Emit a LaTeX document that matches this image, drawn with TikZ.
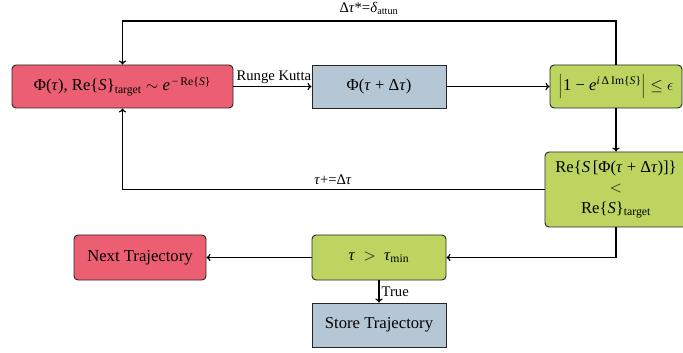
\documentclass[tikz,border=0pt]{standalone}
\usepackage{fontspec}
\setmainfont{Liberation Serif}
\usetikzlibrary{calc,arrows.meta}
\definecolor{cred}{RGB}{236,94,114}
\definecolor{cblue}{RGB}{181,199,213}
\definecolor{cgreen}{RGB}{189,213,96}
\newcommand{\gsp}{\kern0.25em}
\tikzset{
  box/.style={draw=black!85, line width=0.7pt, align=center, inner sep=1pt, font=\fontsize{12.5}{14.5}\selectfont},
  redbox/.style={box, fill=cred, rounded corners=3pt},
  bluebox/.style={box, fill=cblue},
  greenbox/.style={box, fill=cgreen, rounded corners=3pt},
  conn/.style={line width=0.9pt, -{To[length=3pt,width=5.5pt]}},
  lbl/.style={font=\fontsize{11}{13}\selectfont, inner sep=1.5pt},
}
\begin{document}
\begin{tikzpicture}[x=0.75pt,y=-0.75pt]
\useasboundingbox (0,0) rectangle (683,353);
\node[redbox, minimum width=221*0.75pt, minimum height=43*0.75pt] (A) at (122.5,86.5)
  {Φ(\textit{τ}), Re\{\textit{S}\}\textsubscript{target} $\sim$ \textit{e}\textsuperscript{\,−\,Re\{\textit{S}\}}};
\node[bluebox, minimum width=134*0.75pt, minimum height=43*0.75pt] (B) at (379,86.5)
  {Φ(\textit{τ}\gsp+\gsp Δ\textit{τ})};
\node[greenbox, minimum width=132*0.75pt, minimum height=43*0.75pt] (C) at (616,86.5)
  {$\Bigl|$1\gsp−\gsp\textit{e}\textsuperscript{\textit{i}\,Δ\,Im\{\textit{S}\}}$\Bigr|$\gsp$\leq$\gsp$\epsilon$};
\node[greenbox, minimum width=142*0.75pt, minimum height=75*0.75pt] (D) at (616,189.5)
  {Re\{\textit{S}\,[Φ(\textit{τ}\gsp+\gsp Δ\textit{τ})]\}\\[1pt] $<$\\[1pt] Re\{\textit{S}\}\textsubscript{target}};
\node[greenbox, minimum width=134*0.75pt, minimum height=45*0.75pt] (E) at (379,257.5)
  {\textit{τ}\gsp\gsp$>$\gsp\gsp\textit{τ}\textsubscript{min}};
\node[redbox, minimum width=132*0.75pt, minimum height=45*0.75pt] (F) at (140,257.5)
  {Next Trajectory};
\node[bluebox, minimum width=134*0.75pt, minimum height=44*0.75pt] (G) at (379,325)
  {Store Trajectory};
\coordinate (top) at (369,21);
\coordinate (mid) at (333,189.5);
\draw[conn] (A) -- node[lbl, above, xshift=1pt] {Runge Kutta} (B);
\draw[conn] (B) -- (C);
\draw[conn] (C.north) |- (top) node[lbl, above, yshift=3pt] {Δ\textit{τ}*=\textit{δ}\textsubscript{attun}} -| (A.north);
\draw[conn] (C) -- (D);
\draw[conn] (D.west) -- (mid) node[lbl, above, yshift=1.5pt] {\textit{τ}+=Δ\textit{τ}} -| (A.south);
\draw[conn] (D.south) |- (E.east);
\draw[conn] (E) -- (F);
\draw[conn] (E) -- node[lbl, right] {True} (G);
\end{tikzpicture}
\end{document}
